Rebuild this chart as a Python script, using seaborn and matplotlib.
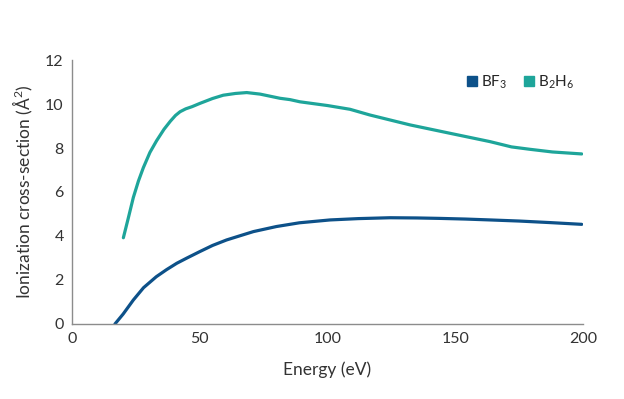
import matplotlib
matplotlib.use("Agg")
import matplotlib.pyplot as plt
from matplotlib.lines import Line2D
import seaborn as sns
import pandas as pd

# values
bf3_energy = [16.8, 20, 24, 28, 33, 37, 41, 45, 50, 55, 60.5, 66, 71, 80, 89, 101, 112, 124.5, 135, 144, 154, 163.6, 175, 187, 199.5]
bf3_sigma = [0.0, 0.45, 1.09, 1.65, 2.15, 2.47, 2.76, 3.0, 3.29, 3.57, 3.82, 4.02, 4.2, 4.43, 4.6, 4.73, 4.79, 4.83, 4.82, 4.8, 4.77, 4.73, 4.68, 4.61, 4.53]

b2h6_energy = [20.1, 22, 24, 26, 27.9, 30.5, 33.1, 36, 38.5, 40.5, 42.3, 44.5, 47, 50.1, 55, 59.2, 64, 68.4, 73.6, 81.4, 85.3, 89.2, 100, 108.8, 116.6, 132.3, 147.9, 163.6, 172, 179.3, 188, 199.5]
b2h6_sigma = [3.92, 4.8, 5.75, 6.5, 7.1, 7.8, 8.33, 8.85, 9.22, 9.48, 9.65, 9.78, 9.88, 10.03, 10.25, 10.4, 10.48, 10.52, 10.45, 10.26, 10.2, 10.1, 9.93, 9.76, 9.5, 9.05, 8.67, 8.29, 8.05, 7.94, 7.82, 7.73]

labels = [r"BF$_3$", r"B$_2$H$_6$"]
colors = ["#0d5189", "#1ea59a"]

df = pd.concat([
    pd.DataFrame({"energy": bf3_energy, "sigma": bf3_sigma, "gas": labels[0]}),
    pd.DataFrame({"energy": b2h6_energy, "sigma": b2h6_sigma, "gas": labels[1]}),
])

sns.set_style("white")
plt.rcParams["font.family"] = ["Lato", "DejaVu Sans"]
plt.rcParams["mathtext.fontset"] = "custom"
plt.rcParams["mathtext.rm"] = "Lato"

fig = plt.figure(figsize=(6.24, 3.99), dpi=100)
ax = fig.add_axes([0.1154, 0.188, 0.8189, 0.6616])

sns.lineplot(data=df, x="energy", y="sigma", hue="gas", palette=colors,
             linewidth=2.3, sort=False, estimator=None, legend=False, ax=ax)

ax.set_xlim(0, 200)
ax.set_ylim(0, 12)
ax.set_xticks([0, 50, 100, 150, 200])
ax.set_yticks(range(0, 13, 2))
ax.set_xlabel("Energy (eV)", fontsize=12.5, color="#333333", labelpad=11)
ax.set_ylabel("Ionization cross-section (Å$^2$)", fontsize=12.5, color="#333333", labelpad=7)

for side in ["top", "right"]:
    ax.spines[side].set_visible(False)
for side in ["left", "bottom"]:
    ax.spines[side].set_color("#8c8c8c")
    ax.spines[side].set_linewidth(1.0)
ax.tick_params(axis="both", direction="out", length=4, width=1, color="#8c8c8c",
               labelsize=11.5, labelcolor="#333333", pad=2)

handles = [Line2D([], [], marker="s", linestyle="none", markersize=7, color=c) for c in colors]
ax.legend(handles, labels, loc="upper right", bbox_to_anchor=(1.01, 1.0), ncol=2,
          frameon=False, fontsize=11, handletextpad=0.1, columnspacing=0.9,
          handlelength=1.0)

fig.savefig("out.png", dpi=100)
